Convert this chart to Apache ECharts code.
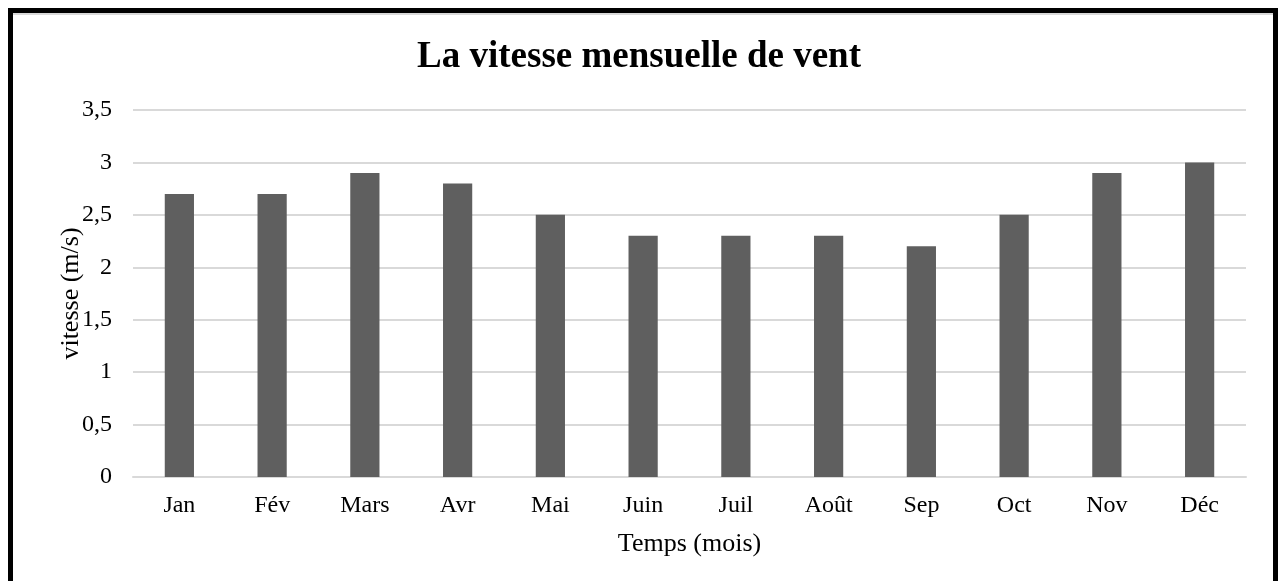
<!DOCTYPE html>
<html>
<head>
<meta charset="utf-8">
<script src="https://cdn.jsdelivr.net/npm/echarts@6/dist/echarts.min.js"></script>
<style>
html,body{margin:0;padding:0;background:#fff;}
#chart{width:1278px;height:581px;position:absolute;left:0;top:0;}
#frame{position:absolute;left:8px;top:8px;width:1260px;height:600px;border:5px solid #000;pointer-events:none;}
#frame:before{content:"";position:absolute;left:0;right:0;top:0;height:2px;background:#d9d9d9;}
</style>
</head>
<body>
<div id="chart"></div>
<div id="frame"></div>
<script>
const title = "La vitesse mensuelle de vent";
const categories = ["Jan","Fév","Mars","Avr","Mai","Juin","Juil","Août","Sep","Oct","Nov","Déc"];
const speeds = [2.7, 2.7, 2.9, 2.8, 2.5, 2.3, 2.3, 2.3, 2.2, 2.5, 2.9, 3.0];
const xAxisName = "Temps (mois)";
const yAxisName = "vitesse (m/s)";

const font = "'Liberation Serif', 'Times New Roman', serif";
const chart = echarts.init(document.getElementById('chart'));
chart.setOption({
  animation: false,
  backgroundColor: '#fff',
  title: {
    text: title,
    left: 'center',
    top: 34,
    textStyle: {fontFamily: font, fontSize: 37, fontWeight: 'bold', color: '#000'}
  },
  grid: {left: 133, right: 32, top: 110, bottom: 104},
  xAxis: {
    type: 'category',
    data: categories,
    name: xAxisName,
    nameLocation: 'middle',
    nameGap: 54,
    nameTextStyle: {fontFamily: font, fontSize: 26, color: '#000'},
    axisLine: {show: true, lineStyle: {color: '#d9d9d9', width: 2}},
    axisTick: {show: false},
    axisLabel: {fontFamily: font, fontSize: 24, color: '#000', margin: 17}
  },
  yAxis: {
    type: 'value',
    min: 0, max: 3.5, interval: 0.5,
    name: yAxisName,
    nameLocation: 'middle',
    nameGap: 49,
    nameMoveOverlap: false,
    nameTextStyle: {fontFamily: font, fontSize: 26, color: '#000'},
    axisLine: {show: false},
    axisTick: {show: false},
    splitLine: {lineStyle: {color: '#d9d9d9', width: 2}},
    axisLabel: {
      fontFamily: font, fontSize: 24, color: '#000', margin: 21,
      formatter: v => String(v).replace('.', ',')
    }
  },
  series: [{
    type: 'bar',
    data: speeds,
    barWidth: '31.5%',
    itemStyle: {color: '#5f5f5f'}
  }]
});
</script>
</body>
</html>
